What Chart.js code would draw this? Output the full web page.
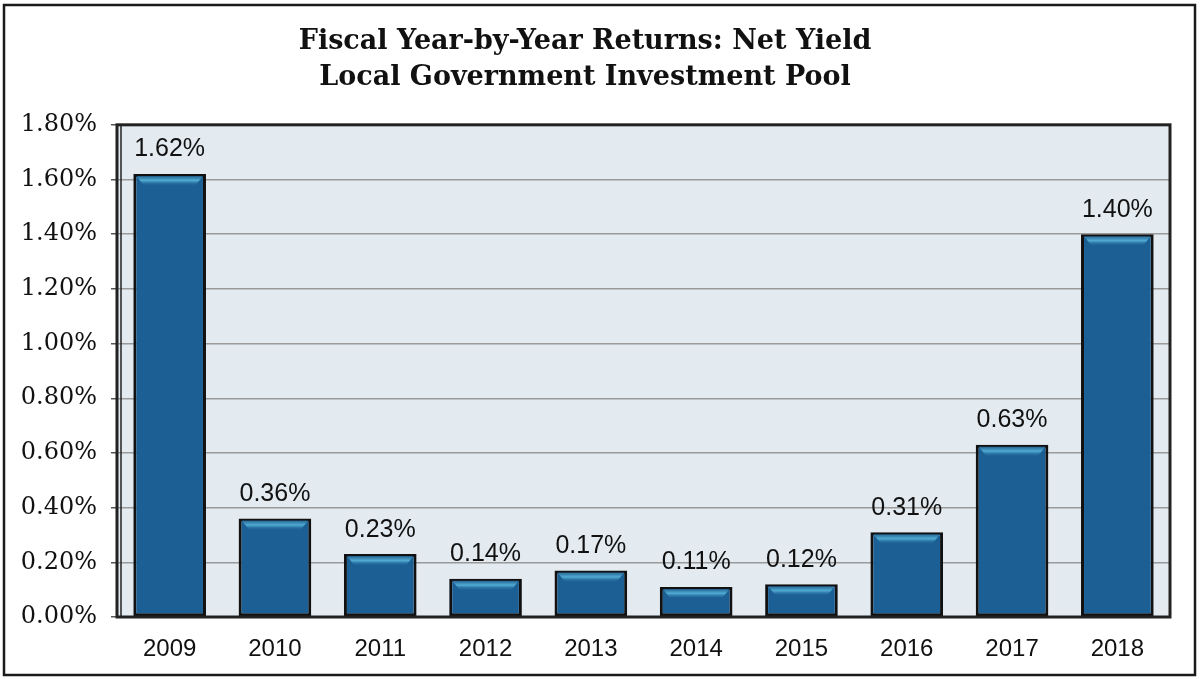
<!DOCTYPE html>
<html>
<head>
<meta charset="utf-8">
<script src="https://cdn.jsdelivr.net/npm/chart.js@4/dist/chart.umd.min.js"></script>
<style>
  html, body { margin: 0; padding: 0; background: #fff; }
  #wrap { width: 1200px; height: 679px; position: relative; }
</style>
</head>
<body>
<div id="wrap"><canvas id="c" width="1200" height="679"></canvas></div>
<script>
const years   = ['2009', '2010', '2011', '2012', '2013', '2014', '2015', '2016', '2017', '2018'];
const yields  = [1.62, 0.36, 0.23, 0.14, 0.17, 0.11, 0.12, 0.31, 0.63, 1.40];
const yTicks  = [0, 0.2, 0.4, 0.6, 0.8, 1.0, 1.2, 1.4, 1.6, 1.8];
const titleLines = ['Fiscal Year-by-Year Returns: Net Yield', 'Local Government Investment Pool'];

const pct = v => v.toFixed(2) + '%';

// page frame + plot background/border
const frame = {
  id: 'frame',
  beforeDraw(chart) {
    const { ctx, chartArea: a } = chart;
    ctx.save();
    ctx.fillStyle = '#e3ebf1';
    ctx.fillRect(a.left, a.top, a.right - a.left, a.bottom - a.top);
    ctx.restore();
  },
  afterDraw(chart) {
    const { ctx, chartArea: a } = chart;
    ctx.save();
    ctx.strokeStyle = '#1a1a1a';
    ctx.lineWidth = 2.5;
    ctx.strokeRect(4, 5, 1191, 670);
    ctx.lineWidth = 3;
    ctx.strokeStyle = '#222';
    ctx.strokeRect(a.left, a.top, a.right - a.left, a.bottom - a.top);
    ctx.lineWidth = 1.5;
    ctx.beginPath();
    ctx.moveTo(a.left + 4, a.top);
    ctx.lineTo(a.left + 4, a.bottom);
    ctx.stroke();
    ctx.restore();
  }
};

// light highlight at bar tops + value labels
const barDeco = {
  id: 'barDeco',
  afterDatasetsDraw(chart) {
    const { ctx } = chart;
    const meta = chart.getDatasetMeta(0);
    ctx.save();
    meta.data.forEach((bar, i) => {
      const w = bar.width;
      const l = bar.x - w / 2 + 3;
      const r = bar.x + w / 2 - 3;
      const g = ctx.createLinearGradient(0, bar.y + 2, 0, bar.y + 12);
      g.addColorStop(0, 'rgba(35,100,150,0.9)');
      g.addColorStop(0.45, 'rgba(90,185,220,0.85)');
      g.addColorStop(1, 'rgba(28,95,149,0)');
      ctx.fillStyle = g;
      ctx.beginPath();
      ctx.moveTo(l, bar.y + 2);
      ctx.lineTo(r, bar.y + 2);
      ctx.lineTo(r - 8, bar.y + 12);
      ctx.lineTo(l + 8, bar.y + 12);
      ctx.closePath();
      ctx.fill();

      ctx.fillStyle = '#111';
      ctx.font = '25px "Liberation Sans", Arial, sans-serif';
      ctx.textAlign = 'center';
      ctx.textBaseline = 'bottom';
      ctx.fillText(pct(yields[i]), bar.x, bar.y - 12);
    });
    ctx.restore();
  }
};

function barFill(c) {
  const chart = c.chart;
  const el = c.element;
  if (!chart.chartArea || !el || !el.width) return '#1c5f95';
  const x0 = el.x - el.width / 2, x1 = el.x + el.width / 2;
  const g = chart.ctx.createLinearGradient(x0, 0, x1, 0);
  g.addColorStop(0, '#14446c');
  g.addColorStop(0.12, '#1a5c91');
  g.addColorStop(0.5, '#1d6299');
  g.addColorStop(0.88, '#1a5c91');
  g.addColorStop(1, '#14446c');
  return g;
}

new Chart(document.getElementById('c'), {
  type: 'bar',
  data: {
    labels: years,
    datasets: [{
      data: yields,
      backgroundColor: barFill,
      borderColor: '#111',
      borderWidth: 3,
      borderSkipped: false,
      barPercentage: 0.69,
      categoryPercentage: 1.0,
    }],
  },
  options: {
    responsive: false,
    animation: false,
    devicePixelRatio: 1,
    layout: { padding: { left: 0, right: 30, top: 0, bottom: 0 } },
    plugins: {
      legend: { display: false },
      tooltip: { enabled: false },
      title: {
        display: true,
        text: titleLines,
        color: '#111',
        font: { family: '"DejaVu Serif", serif', size: 27, weight: 'bold', lineHeight: 1.33 },
        padding: { top: 24, bottom: 29 },
      },
    },
    scales: {
      x: {
        grid: { display: false, drawTicks: false },
        border: { display: false },
        ticks: {
          color: '#111',
          padding: 18,
          font: { family: '"Liberation Sans", Arial, sans-serif', size: 24 },
        },
        afterFit(s) { s.height = 62; },
      },
      y: {
        min: 0,
        max: 1.8,
        afterBuildTicks(s) { s.ticks = yTicks.map(v => ({ value: v })); },
        grid: { color: '#9a9a9a', lineWidth: 1.5, drawTicks: true, tickLength: 6, tickColor: '#555' },
        border: { display: false },
        ticks: {
          color: '#111',
          padding: 14,
          font: { family: '"DejaVu Serif", serif', size: 24 },
          callback: v => pct(v),
        },
        afterFit(s) { s.width = 117; },
      },
    },
  },
  plugins: [frame, barDeco],
});
</script>
</body>
</html>
